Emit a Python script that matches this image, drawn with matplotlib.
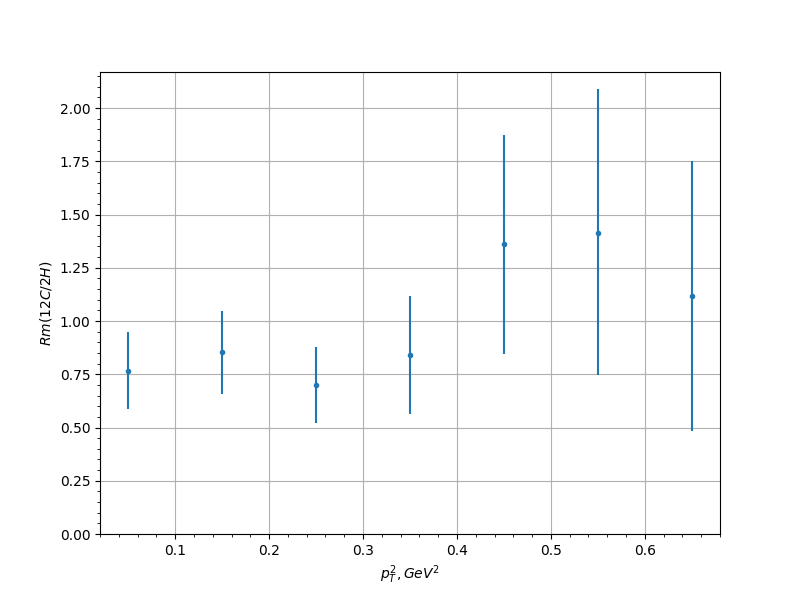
import matplotlib
matplotlib.use('Agg')
import matplotlib.pyplot as plt
import numpy as np

pt2 = np.array([0.05, 0.15, 0.25, 0.35, 0.45, 0.55, 0.65])
rm = np.array([0.765, 0.853, 0.698, 0.839, 1.360, 1.412, 1.116])
err_lo = np.array([0.177, 0.196, 0.175, 0.274, 0.513, 0.667, 0.634])
err_hi = np.array([0.183, 0.194, 0.180, 0.278, 0.513, 0.677, 0.635])

fig, ax = plt.subplots(figsize=(8, 6), dpi=100)
ax.errorbar(pt2, rm, yerr=[err_lo, err_hi], fmt='.')
ax.set_ylim(bottom=0)
ax.minorticks_on()
ax.grid(which='major')
ax.set_xlabel('$p_T^2, GeV^2$')
ax.set_ylabel('$Rm(12C/2H)$')
fig.savefig('out.png')
